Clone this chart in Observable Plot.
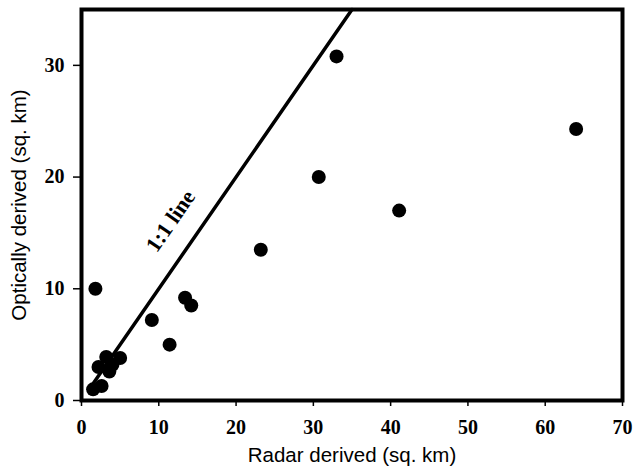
<!DOCTYPE html>
<html>
<head>
<meta charset="utf-8">
<script src="https://cdn.jsdelivr.net/npm/d3@7"></script>
<script src="https://cdn.jsdelivr.net/npm/@observablehq/plot@0.6"></script>
<style>
  body { margin: 0; background: #fff; }
</style>
</head>
<body>
<div id="chart"></div>
<script>
// Radar-derived vs optically-derived area (sq. km)
const radar   = [1.5, 2.6, 2.2, 3.2, 4.0, 3.6, 5.0, 1.8, 9.1, 11.4, 13.4, 14.2, 23.2, 30.7, 33.0, 41.1, 64.0];
const optical = [1.0, 1.3, 3.0, 3.9, 3.2, 2.6, 3.8, 10.0, 7.2, 5.0, 9.2, 8.5, 13.5, 20.0, 30.8, 17.0, 24.3];
const xTicks = [0, 10, 20, 30, 40, 50, 60, 70];
const yTicks = [0, 10, 20, 30];
const oneToOne = [1, 35];
const lineLabel = "1:1 line";
const lineLabelAt = 14;
const xTitle = "Radar derived (sq. km)";
const yTitle = "Optically derived (sq. km)";

const points = radar.map((x, i) => ({x, y: optical[i]}));
const refLine = oneToOne.map(v => ({x: v, y: v}));

const serif = "Liberation Serif, Times New Roman, serif";
const sans = "Liberation Sans, Arial, sans-serif";

const chart = Plot.plot({
  width: 634,
  height: 472,
  marginLeft: 81,
  marginRight: 12,
  marginTop: 9,
  marginBottom: 72,
  style: {background: "#fff", color: "#000", overflow: "visible"},
  x: {domain: [0, 70]},
  y: {domain: [0, 35]},
  marks: [
    Plot.line(refLine, {x: "x", y: "y", stroke: "#000", strokeWidth: 3.5}),
    Plot.text([lineLabel], {
      x: lineLabelAt, y: lineLabelAt, text: d => d,
      dx: -19, dy: -23, rotate: -55.3,
      fontFamily: serif, fontWeight: "bold", fontSize: 22, fill: "#000"
    }),
    Plot.dot(points, {x: "x", y: "y", r: 7, fill: "#000", stroke: "none"}),
    Plot.axisX({
      ticks: xTicks, tickSize: 6, tickPadding: 13, label: null,
      stroke: "#000", strokeWidth: 1.5,
      fontFamily: serif, fontWeight: "bold", fontSize: 20, fill: "#000"
    }),
    Plot.axisY({
      ticks: yTicks, tickSize: 8, tickPadding: 9, label: null,
      stroke: "#000", strokeWidth: 1.5,
      fontFamily: serif, fontWeight: "bold", fontSize: 20, fill: "#000"
    }),
    Plot.frame({stroke: "#000", strokeWidth: 4}),
    Plot.text([xTitle], {
      frameAnchor: "bottom", text: d => d, dy: 61,
      fontFamily: sans, fontSize: 20.5, fill: "#000"
    }),
    Plot.text([yTitle], {
      frameAnchor: "left", textAnchor: "middle", text: d => d, dx: -62, rotate: -90,
      fontFamily: sans, fontSize: 20.5, fill: "#000"
    })
  ]
});
document.getElementById("chart").appendChild(chart);
</script>
</body>
</html>
